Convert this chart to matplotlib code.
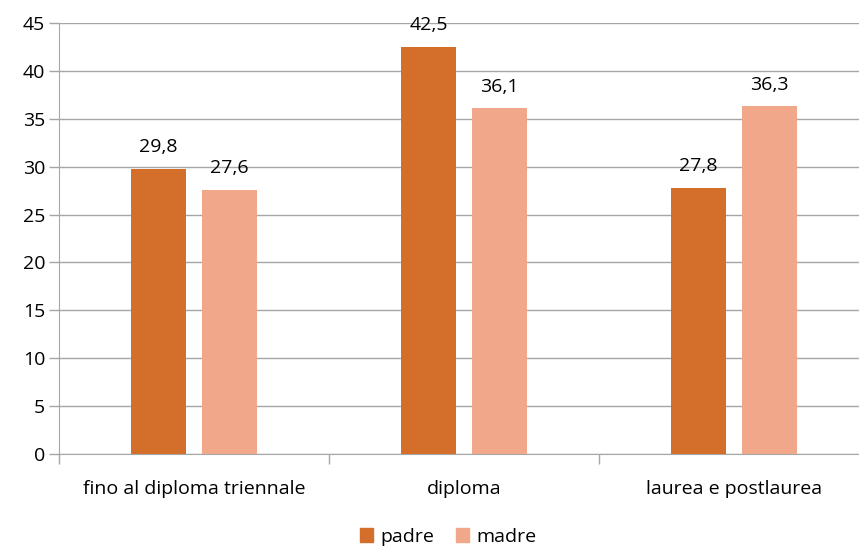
import matplotlib.pyplot as plt
import numpy as np
from matplotlib.patches import Patch

categories = ["fino al diploma triennale", "diploma", "laurea e postlaurea"]
padre = [29.8, 42.5, 27.8]
madre = [27.6, 36.1, 36.3]
series_names = ["padre", "madre"]

c_padre = "#D36F2B"
c_madre = "#F1A78A"
grid_c = "#A6A6A6"

plt.rcParams['font.family'] = ['Open Sans', 'DejaVu Sans']
fs = 14

fig = plt.figure(figsize=(8.59, 5.47), dpi=100)
# plot area runs past the right edge of the picture, as in the reference
ax = fig.add_axes([59 / 859, 93 / 547, 810 / 859, 431 / 547])

x = np.arange(len(categories))
w = 0.204
off = 0.131
b1 = ax.bar(x - off, padre, w, color=c_padre, zorder=3)
b2 = ax.bar(x + off, madre, w, color=c_madre, zorder=3)

for bars, vals in ((b1, padre), (b2, madre)):
    for rect, v in zip(bars, vals):
        ax.annotate(f"{v:.1f}".replace(".", ","),
                    (rect.get_x() + rect.get_width() / 2, rect.get_height()),
                    xytext=(0, 9), textcoords="offset points",
                    ha="center", va="bottom", fontsize=fs)

ax.set_xlim(-0.5, len(categories) - 0.5)
ax.set_ylim(0, 45)
ax.set_yticks(range(0, 46, 5))
ax.yaxis.grid(True, color=grid_c, linewidth=1)
ax.set_axisbelow(True)

ax.set_xticks(np.arange(len(categories) + 1) - 0.5)
ax.set_xticklabels([])
ax.set_xticks(x, minor=True)
ax.set_xticklabels(categories, minor=True, fontsize=fs)
ax.tick_params(axis="x", which="major", length=7, color=grid_c, width=1)
ax.tick_params(axis="x", which="minor", length=0, pad=19)
ax.tick_params(axis="y", length=7, color=grid_c, width=1, labelsize=fs, pad=3)

for s in ["top", "right"]:
    ax.spines[s].set_visible(False)
ax.spines["left"].set_color(grid_c)
ax.spines["bottom"].set_color(grid_c)

handles = [Patch(color=c_padre), Patch(color=c_madre)]
fig.legend(handles, series_names, loc="center", bbox_to_anchor=(448 / 859, 1 - 537 / 547),
           ncol=2, frameon=False, fontsize=fs, handlelength=0.7, handleheight=0.7,
           handletextpad=0.35, columnspacing=1.1)

plt.savefig("out.png", dpi=100)
